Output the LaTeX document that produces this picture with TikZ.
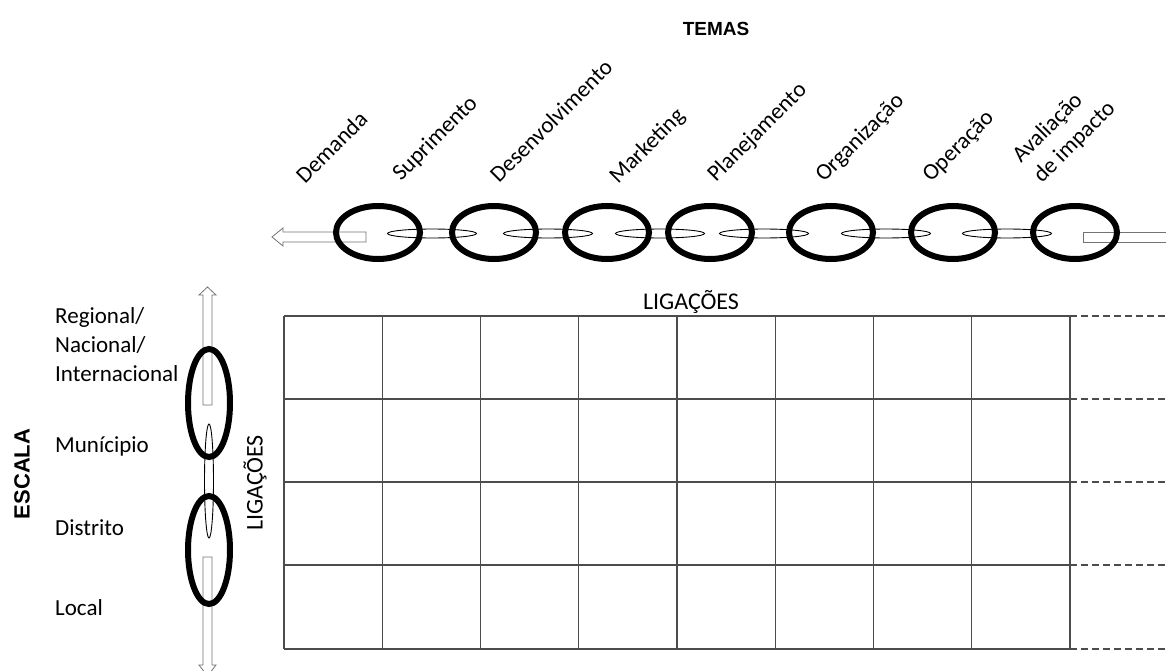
\documentclass[tikz,border=0pt]{standalone}
\usepackage{fontspec}
\setmainfont{Carlito}
\newfontfamily\headfont{Liberation Sans}
\begin{document}
\begin{tikzpicture}[x=1pt,y=-1pt,
  bigring/.style={draw=black, line width=6pt},
  thinring/.style={draw=black, line width=0.9pt},
  hollow/.style={draw=black!55, line width=0.8pt, fill=white},
  gridline/.style={draw=black!70, line width=1.1pt},
  extline/.style={draw=black!70, line width=1.1pt, dash pattern=on 7pt off 4pt},
  lbl/.style={font=\fontsize{23}{29}\selectfont, inner sep=0pt},
  tema/.style={lbl, rotate=45, anchor=base west},
  head/.style={font=\headfont\bfseries\fontsize{19}{19}\selectfont, inner sep=0pt}
]
\useasboundingbox (0,0) rectangle (1166,671);
\clip (0,0) rectangle (1166,671);

% ---------- horizontal chain (themes) ----------
% connecting pins between the rings
\foreach \cx in {432,548,660,764,886,1007}
  \draw[thinring] (\cx,233.5) ellipse [x radius=44.5pt, y radius=4.5pt];
% outgoing arrow on the left and open bar on the right
\draw[hollow] (272,237) -- (283,228) -- (283,232) -- (366,232) -- (366,242)
  -- (283,242) -- (283,246) -- cycle;
\draw[hollow] (1190,232) -- (1083,232) -- (1083,242) -- (1190,242);
% rings
\foreach \cx in {378,494,607,710,831,953,1075}
  \draw[bigring] (\cx,232.5) ellipse [x radius=42pt, y radius=26.5pt];

% ---------- vertical chain (scales) ----------
\draw[thinring] (209,481) ellipse [x radius=4.5pt, y radius=57pt];
\draw[hollow] (207.5,287) -- (216,295) -- (212,295) -- (212,405) -- (203,405)
  -- (203,295) -- (199,295) -- cycle;
\draw[hollow] (207.5,676) -- (216,665) -- (212,665) -- (212,557) -- (203,557)
  -- (203,665) -- (199,665) -- cycle;
\draw[bigring] (209,403) ellipse [x radius=21pt, y radius=54pt];
\draw[bigring] (209,550) ellipse [x radius=21pt, y radius=54pt];

% ---------- grid ----------
\foreach \i in {0,...,8}
  \draw[gridline] ({284+98.25*\i},316) -- ({284+98.25*\i},649);
\foreach \r in {316,399,482,565,649} {
  \draw[gridline] (284,\r) -- (1070,\r);
  \draw[extline] (1070,\r) -- (1166,\r);
}

% ---------- texts ----------
\node[head] (temas) at (716,29) {TEMAS};
\node[head, font=\headfont\bfseries\fontsize{22}{22}\selectfont, rotate=90] (escala) at (22,474) {ESCALA};

\node[tema] (t1) at (305,185) {Demanda};
\node[tema] (t2) at (401,182) {Suprimento};
\node[tema] (t3) at (499,184) {Desenvolvimento};
\node[tema] (t4) at (618,185) {Marketing};
\node[tema] (t5) at (716,183) {Planejamento};
\node[tema] (t6) at (824,183) {Organização};
\node[tema] (t7) at (931,183) {Operação};
\node[tema] (t8a) at (1021,164) {Avaliação};
\node[tema] (t8b) at (1042,184) {de impacto};

\node[lbl, anchor=base west] (s1a) at (55,323) {Regional/};
\node[lbl, anchor=base west] (s1b) at (55,352) {Nacional/};
\node[lbl, anchor=base west] (s1c) at (55,381) {Internacional};
\node[lbl, anchor=base west] (s2) at (55,452) {Munícipio};
\node[lbl, anchor=base west] (s3) at (55,535) {Distrito};
\node[lbl, anchor=base west] (s4) at (55,615) {Local};

\node[lbl, font=\fontsize{24}{29}\selectfont] (ligh) at (691,302) {LIGAÇÕES};
\node[lbl, font=\fontsize{24}{29}\selectfont, rotate=90] (ligv) at (255,483) {LIGAÇÕES};
\end{tikzpicture}
\end{document}
